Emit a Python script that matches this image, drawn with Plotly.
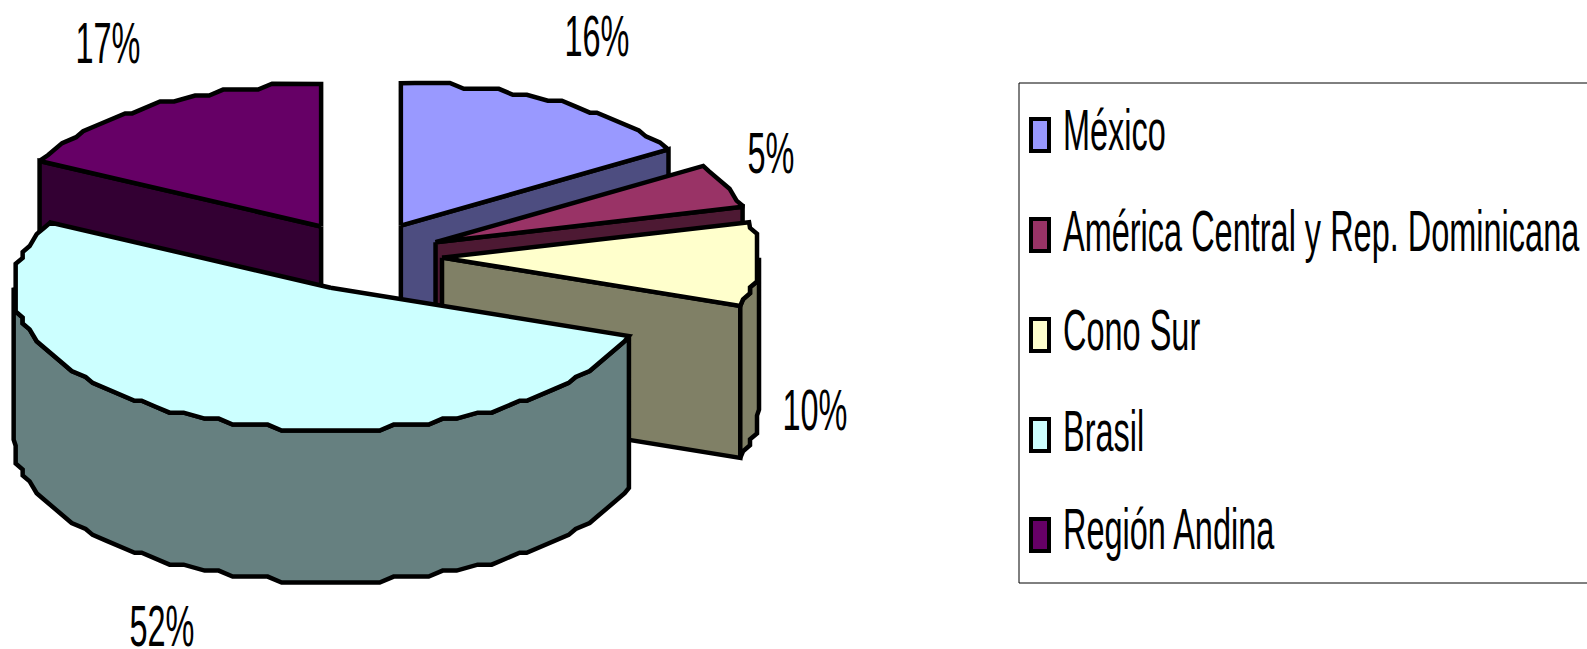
import math
import plotly.graph_objects as go

categories = ["México", "América Central y Rep. Dominicana", "Cono Sur", "Brasil", "Región Andina"]
values = [16, 5, 9.5, 52.1, 17.4]
value_labels = ["16%", "5%", "10%", "52%", "17%"]
top_colors = ["#9999FF", "#993366", "#FFFFCC", "#CCFFFF", "#660066"]
side_colors = ["#4D4D80", "#4D1933", "#808066", "#668080", "#330033"]

# pie projection (pixels of the 1587x649 canvas)
CX, CY = 362.5, 256.0
A, B = 317.0, 142.5
DEPTH = 152.0
EX, EY = 79.6, 34.6
GRID = 7.0
STEP = 3.0
LINE = 4.5

label_pos = [(597, 41), (771, 158), (815, 415), (162, 631), (108, 48)]
legend_text_y = [135, 236, 335, 436, 534]
legend_swatch_y = [135, 235, 335, 435, 535]
LEG_BOX = (1019, 83, 1600, 583)
LEG_SW_X = (1031, 1049)
LEG_SW_H = 32
LEG_TX = 1063
FS = 58
FONT = "Liberation Sans"

total = sum(values)
starts, ends = [], []
acc = 0.0
for v in values:
    starts.append(acc / total * 360)
    acc += v
    ends.append(acc / total * 360)


def rim(t):
    r = math.radians(t)
    return A * math.sin(r), -B * math.cos(r)


def arc(t1, t2):
    """Rim of a slice, snapped to a coarse grid like the stair-stepped original."""
    pts = [rim(t1)]
    k = math.floor(t1 / STEP) + 1
    while k * STEP < t2:
        x, y = rim(k * STEP)
        p = (round(x / GRID) * GRID, round(y / (GRID * 0.85)) * (GRID * 0.85))
        if p != pts[-1]:
            pts.append(p)
        k += 1
    pts.append(rim(t2))
    return pts


def poly(fig, pts, color):
    xs = [p[0] for p in pts] + [pts[0][0]]
    ys = [p[1] for p in pts] + [pts[0][1]]
    fig.add_trace(go.Scatter(x=xs, y=ys, mode="lines", fill="toself", fillcolor=color,
                             line=dict(color="black", width=LINE), hoverinfo="skip",
                             showlegend=False))


fig = go.Figure()
for i in [4, 0, 1, 2, 3]:
    t1, t2 = starts[i], ends[i]
    mid = math.radians((t1 + t2) / 2)
    ox = CX + EX * math.sin(mid)
    oy = CY - EY * math.cos(mid)
    # cut faces
    for t, visible in ((t2, math.sin(math.radians(t2)) > 1e-6), (t1, math.sin(math.radians(t1)) < -1e-6)):
        if visible:
            rx, ry = rim(t)
            poly(fig, [(ox, oy), (ox + rx, oy + ry), (ox + rx, oy + ry + DEPTH), (ox, oy + DEPTH)], side_colors[i])
    # outer wall (front half only)
    a1, a2 = max(t1, 90), min(t2, 270)
    if a2 > a1:
        rimpts = arc(a1, a2)
        up = [(ox + x, oy + y) for x, y in rimpts]
        dn = [(ox + x, oy + y + DEPTH) for x, y in reversed(rimpts)]
        poly(fig, up + dn, side_colors[i])
    # top
    poly(fig, [(ox, oy)] + [(ox + x, oy + y) for x, y in arc(t1, t2)], top_colors[i])

fig.add_trace(go.Scatter(x=[p[0] for p in label_pos], y=[p[1] for p in label_pos],
                         text=value_labels, mode="text", textposition="middle center", cliponaxis=False,
                         textfont=dict(family=FONT, size=FS, color="black"),
                         hoverinfo="skip", showlegend=False))
fig.add_trace(go.Scatter(x=[LEG_TX] * len(categories), y=legend_text_y, text=categories, mode="text",
                         textposition="middle right", cliponaxis=False,
                         textfont=dict(family=FONT, size=FS, color="black"),
                         hoverinfo="skip", showlegend=False))

shapes = [dict(type="rect", x0=LEG_BOX[0], y0=LEG_BOX[1], x1=LEG_BOX[2], y1=LEG_BOX[3],
               line=dict(color="black", width=1), fillcolor="rgba(0,0,0,0)", layer="below")]
for y, c in zip(legend_swatch_y, top_colors):
    shapes.append(dict(type="rect", x0=LEG_SW_X[0], x1=LEG_SW_X[1], y0=y - LEG_SW_H / 2, y1=y + LEG_SW_H / 2,
                       fillcolor=c, line=dict(color="black", width=4), layer="above"))

fig.update_layout(
    width=1587, height=649, margin=dict(l=0, r=0, t=0, b=0),
    paper_bgcolor="white", plot_bgcolor="white", showlegend=False, shapes=shapes,
    xaxis=dict(range=[0, 1587], visible=False, fixedrange=True),
    yaxis=dict(range=[649, 0], visible=False, fixedrange=True),
)

squeeze = """
document.body.style.margin = '0';
document.documentElement.style.overflow = 'hidden';
document.querySelectorAll('.textpoint text').forEach(function (t) {
  var w = t.getComputedTextLength();
  t.setAttribute('textLength', w * 0.56);
  t.setAttribute('lengthAdjust', 'spacingAndGlyphs');
});
"""
fig.write_html("out.html", post_script=squeeze, config=dict(displayModeBar=False))
